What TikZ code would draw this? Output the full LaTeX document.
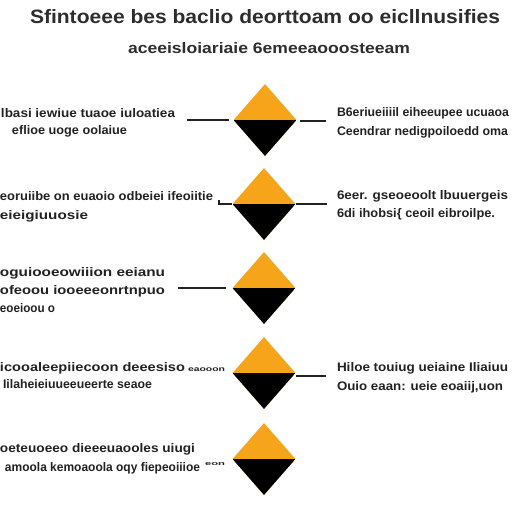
\documentclass[tikz,border=0pt]{standalone}
\usepackage{fontspec}
\setmainfont{Liberation Sans}
\usetikzlibrary{shapes.geometric}
\definecolor{orng}{RGB}{246,165,27}
\definecolor{txtc}{RGB}{34,34,34}
\definecolor{ttlc}{RGB}{45,45,45}
\newcommand\fitbox[3]{\resizebox{#1pt}{#2pt}{\vphantom{Ilb}#3}}
\tikzset{
  txt/.style={anchor=base west, inner sep=0pt, outer sep=0pt, font=\bfseries, text=txtc},
  ttl/.style={anchor=base west, inner sep=0pt, outer sep=0pt, font=\bfseries, text=ttlc},
  halfdiamond/.style={diamond, minimum width=63pt, minimum height=72pt, inner sep=0pt,
    fill=orng, path picture={\fill[black] (path picture bounding box.west) rectangle (path picture bounding box.south east);}},
  link/.style={draw=txtc, line width=1.4pt}
}
\begin{document}
\begin{tikzpicture}[x=1pt,y=-1pt]
\useasboundingbox[fill=white] (0,0) rectangle (512,512);
% title
\node[ttl] (t1) at (30,23) {\fitbox{470}{14}{Sfintoeee bes baclio deorttoam oo eicllnusifies}};
\node[ttl] (t2) at (128,53) {\fitbox{282}{11}{aceeisloiariaie 6emeeaooosteeam}};
% diamonds
\node[halfdiamond] (d1) at (265,120) {};
\node[halfdiamond] (d2) at (264,204) {};
\node[halfdiamond] (d3) at (264,288) {};
\node[halfdiamond] (d4) at (264,373) {};
\node[halfdiamond] (d5) at (264,459) {};
% left texts
\node[txt] (l1a) at (1,117) {\fitbox{174}{9}{lbasi iewiue tuaoe iuloatiea}};
\node[txt] (l1b) at (12,134) {\fitbox{115}{9}{eflioe uoge oolaiue}};
\node[txt] (l2a) at (0,200) {\fitbox{213}{9}{eoruiibe on euaoio odbeiei ifeoiitie}};
\node[txt] (l2b) at (0,219) {\fitbox{88}{9}{eieigiuuosie}};
\node[txt] (l3a) at (0,276) {\fitbox{165}{9}{oguiooeowiiion eeianu}};
\node[txt] (l3b) at (0,294) {\fitbox{165}{9}{ofeoou iooeeeonrtnpuo}};
\node[txt] (l3c) at (0,312) {\fitbox{55}{9}{eoeioou o}};
\node[txt] (l4a) at (0,371) {\fitbox{185}{9}{icooaleepiiecoon deeesiso}};
\node[txt] (l4s) at (188,371) {\fitbox{37}{5}{eaooon}};
\node[txt] (l4b) at (3,388) {\fitbox{149}{9}{Iilaheieiuueeueerte seaoe}};
\node[txt] (l5a) at (0,452) {\fitbox{195}{9}{oeteuoeeo dieeeuaooles uiugi}};
\node[txt] (l5b) at (5,471) {\fitbox{195}{9}{amoola kemoaoola oqy fiepeoiiioe}};
\node[txt] (l5s) at (205,465) {\fitbox{20}{4}{eon}};
% right texts
\node[txt] (r1a) at (337,116) {\fitbox{172}{9}{B6eriueiiiil eiheeupee ucuaoa}};
\node[txt] (r1b) at (337,135) {\fitbox{171}{9}{Ceendrar nedigpoiloedd oma}};
\node[txt] (r2a) at (337,199) {\fitbox{171}{9}{6eer. gseoeoolt lbuuergeis}};
\node[txt] (r2b) at (337,217) {\fitbox{158}{9}{6di ihobsi\{ ceoil eibroilpe.}};
\node[txt] (r4a) at (337,371) {\fitbox{171}{9}{Hiloe touiug ueiaine Iliaiuu}};
\node[txt] (r4b) at (337,390) {\fitbox{166}{9}{Ouio eaan: ueie eoaiij,uon}};
% connectors
\coordinate (c1l) at (187,120);
\coordinate (c1r) at (326,121);
\coordinate (c2l) at (219,204);
\coordinate (c2t) at (219,200);
\coordinate (c2r) at (327,204);
\coordinate (c3l) at (178,288);
\coordinate (c4r) at (326,376);
\draw[link] (c1l) -- ([xshift=-4pt]d1.west);
\draw[link] ([xshift=3pt]d1.east |- c1r) -- (c1r);
\draw[link] (c2t) -- (c2l) -- (d2.west);
\draw[link] (d2.east) -- (c2r);
\draw[link] (c3l) -- ([xshift=-6pt]d3.west);
\draw[link] (d4.east |- c4r) -- (c4r);
\end{tikzpicture}
\end{document}
